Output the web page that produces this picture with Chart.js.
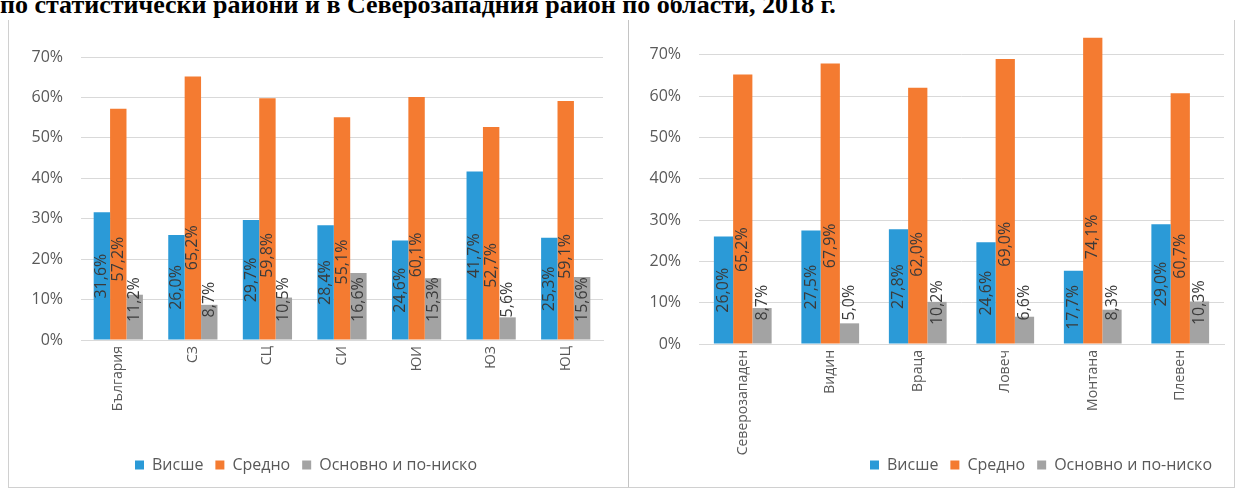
<!DOCTYPE html>
<html>
<head>
<meta charset="utf-8">
<script src="https://cdn.jsdelivr.net/npm/chart.js@4/dist/chart.umd.min.js"></script>
<style>
  body { margin: 0; background: #fff; width: 1236px; height: 494px; overflow: hidden; position: relative; }
  #title { position: absolute; left: 0; top: -8px; font: bold 26px/26px "Liberation Serif", serif; color: #000; white-space: nowrap; z-index: 2; }
  .box { position: absolute; top: 20px; height: 467px; border: 1px solid #d0d0d0; border-top: none; background: #fff; }
  #leftBox { left: 8px; width: 619px; border-right: 2px solid #c4c4c4; }
  #rightBox { left: 629px; width: 605px; border-left: none; }
</style>
</head>
<body>
<div id="title">по статистически райони и в Северозападния район по области, 2018 г.</div>
<div class="box" id="leftBox"><canvas id="leftChart"></canvas></div>
<div class="box" id="rightBox"><canvas id="rightChart"></canvas></div>
<script>
/* легенда */
var seriesNames = ['Висше', 'Средно', 'Основно и по-ниско'];
var seriesColors = ['#2b9ad7', '#f47b31', '#a3a3a3'];

/* статистически райони */
var regions = ['България', 'СЗ', 'СЦ', 'СИ', 'ЮИ', 'ЮЗ', 'ЮЦ'];
var regionHigher = [31.6, 26.0, 29.7, 28.4, 24.6, 41.7, 25.3];
var regionSecondary = [57.2, 65.2, 59.8, 55.1, 60.1, 52.7, 59.1];
var regionPrimary = [11.2, 8.7, 10.5, 16.6, 15.3, 5.6, 15.6];

/* области в Северозападния район */
var districts = ['Северозападен', 'Видин', 'Враца', 'Ловеч', 'Монтана', 'Плевен'];
var districtHigher = [26.0, 27.5, 27.8, 24.6, 17.7, 29.0];
var districtSecondary = [65.2, 67.9, 62.0, 69.0, 74.1, 60.7];
var districtPrimary = [8.7, 5.0, 10.2, 6.6, 8.3, 10.3];

var yTicks = [0, 10, 20, 30, 40, 50, 60, 70];

var fontName = '"Open Sans", sans-serif';

function fmt(v) {
	return v.toFixed(1).replace('.', ',') + '%';
}

/* надписи върху стълбовете, завъртени */
var barLabels = {
	id: 'barLabels',
	afterDatasetsDraw: function(chart) {
		var ctx = chart.ctx;
		var yScale = chart.scales.y;
		ctx.save();
		ctx.font = '16px ' + fontName;
		ctx.fillStyle = '#3a3a3a';
		ctx.textAlign = 'center';
		ctx.textBaseline = 'middle';
		chart.data.datasets.forEach(function(ds, i) {
			var meta = chart.getDatasetMeta(i);
			meta.data.forEach(function(bar, j) {
				var v = ds.data[j];
				var at;
				if (i === 0) at = v / 2;
				else if (i === 1) at = v * 0.35;
				else at = 10;
				ctx.save();
				ctx.translate(bar.x, yScale.getPixelForValue(at));
				ctx.rotate(-Math.PI / 2);
				ctx.fillText(fmt(v), 0, 0);
				ctx.restore();
			});
		});
		ctx.restore();
	}
};

function createChart(id, labels, a, b, c, yMax, axisWidth, axisHeight, legendAlign, pad) {
	var ctx = document.getElementById(id).getContext('2d');
	return new Chart(ctx, {
		type: 'bar',
		data: {
			labels: labels,
			datasets: [a, b, c].map(function(d, i) {
				return {
					label: seriesNames[i],
					data: d,
					backgroundColor: seriesColors[i],
					categoryPercentage: 0.66,
					barPercentage: 1.0
				};
			})
		},
		options: {
			responsive: false,
			animation: false,
			layout: { padding: pad },
			plugins: {
				tooltip: { enabled: false },
				legend: {
					position: 'bottom',
					align: legendAlign,
					labels: {
						boxWidth: 9,
						boxHeight: 9,
						padding: 12,
						color: '#595959',
						font: { family: fontName, size: 16 }
					}
				}
			},
			scales: {
				x: {
					grid: { display: false, drawTicks: false },
					border: { color: '#d9d9d9' },
					ticks: {
						minRotation: 90,
						maxRotation: 90,
						padding: 6,
						color: '#595959',
						font: { family: fontName, size: 14 }
					},
					afterFit: function(scale) {
						scale.height = axisHeight;
						/* длинните надписи не се изрязват */
						scale._computeLabelArea = function() {};
					}
				},
				y: {
					min: 0,
					max: yMax,
					grid: { color: '#d9d9d9', drawTicks: false },
					border: { display: false },
					ticks: {
						padding: 18,
						color: '#595959',
						font: { family: fontName, size: 16 },
						callback: function(v) { return v + '%'; }
					},
					afterBuildTicks: function(scale) {
						scale.ticks = yTicks.map(function(v) { return { value: v }; });
					},
					afterFit: function(scale) {
						scale.width = axisWidth;
						scale.paddingTop = 0;
						scale.paddingBottom = 0;
					}
				}
			}
		},
		plugins: [barLabels]
	});
}

var lc = document.getElementById('leftChart');
lc.width = 619; lc.height = 467;
var rc = document.getElementById('rightChart');
rc.width = 605; rc.height = 467;

createChart('leftChart', regions, regionHigher, regionSecondary, regionPrimary, 70, 72, 105, 'center',
	{ top: 37, right: 25, bottom: 4, left: 0 });
createChart('rightChart', districts, districtHigher, districtSecondary, districtPrimary, 76, 70, 101, 'end',
	{ top: 10, right: 10, bottom: 4, left: 0 });
</script>
</body>
</html>
